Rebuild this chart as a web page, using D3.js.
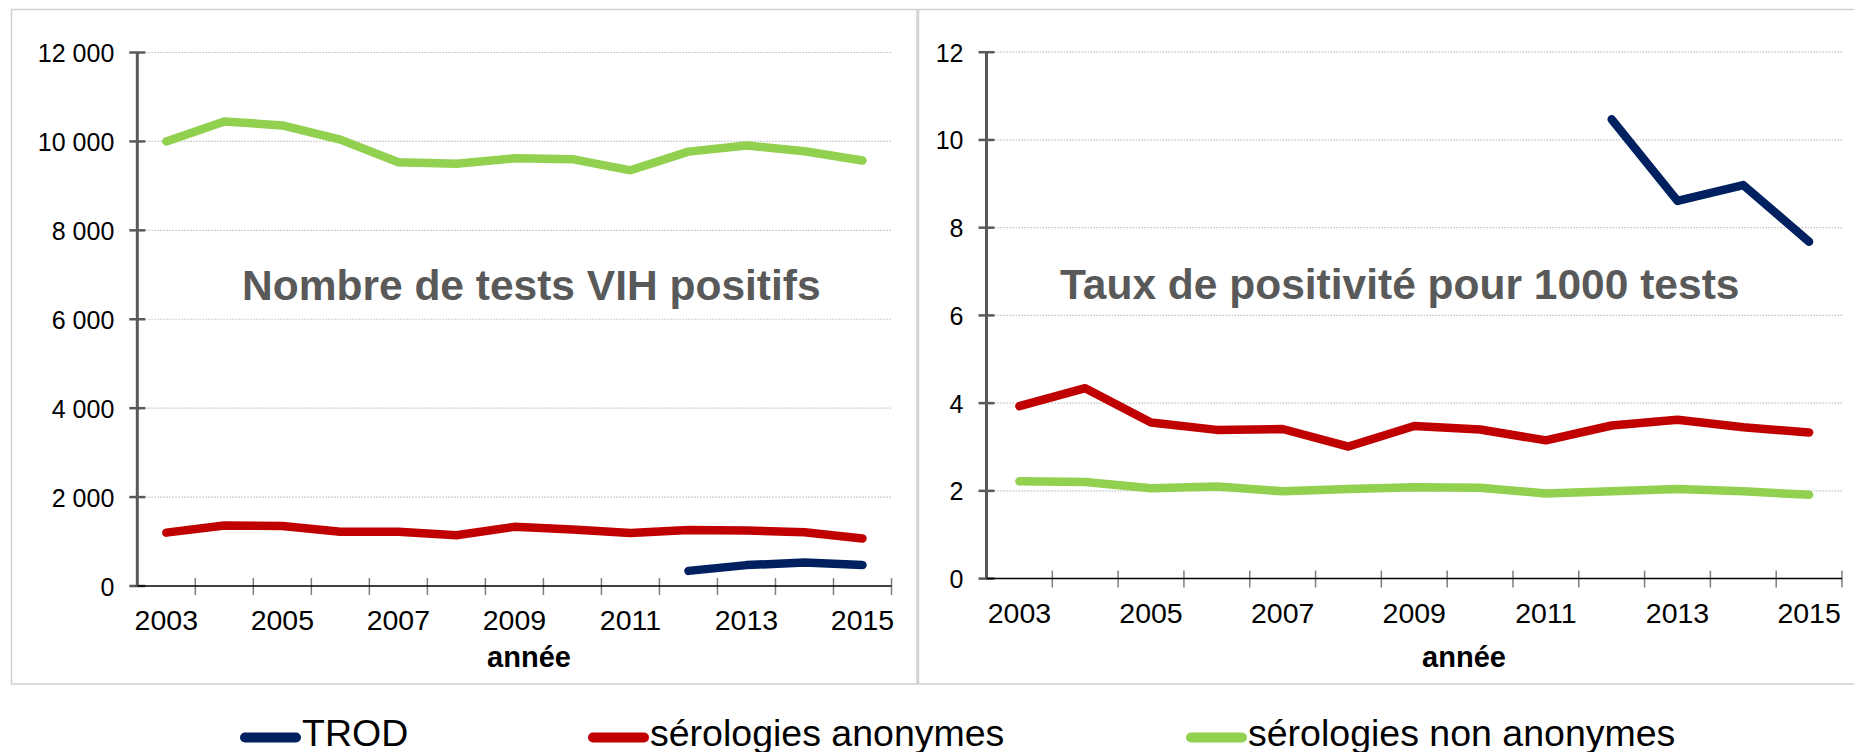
<!DOCTYPE html>
<html>
<head>
<meta charset="utf-8">
<script src="https://cdn.jsdelivr.net/npm/d3@7"></script>
<style>
  body { margin: 0; background: #fff; }
  svg { display: block; font-family: "Liberation Sans", Arial, sans-serif; }
</style>
</head>
<body>
<div id="dataviz"></div>
<script>
// data
var years = [2003, 2004, 2005, 2006, 2007, 2008, 2009, 2010, 2011, 2012, 2013, 2014, 2015];
var yearLabels = [2003, 2005, 2007, 2009, 2011, 2013, 2015];

// nombre de tests VIH positifs
var countTrod = [null, null, null, null, null, null, null, null, null, 340, 470, 530, 470];
var countAnon = [1200, 1360, 1350, 1220, 1220, 1140, 1330, 1270, 1190, 1260, 1250, 1210, 1070];
var countNonAnon = [10000, 10450, 10360, 10040, 9530, 9500, 9620, 9600, 9350, 9770, 9910, 9780, 9570];

// taux de positivite pour 1000 tests
var rateTrod = [null, null, null, null, null, null, null, null, null, 10.47, 8.61, 8.97, 7.68];
var rateAnon = [3.93, 4.34, 3.56, 3.39, 3.41, 3.01, 3.48, 3.40, 3.15, 3.49, 3.62, 3.45, 3.33];
var rateNonAnon = [2.22, 2.20, 2.06, 2.10, 1.99, 2.04, 2.08, 2.07, 1.94, 1.99, 2.04, 1.99, 1.91];

var countTicks = [0, 2000, 4000, 6000, 8000, 10000, 12000];
var rateTicks = [0, 2, 4, 6, 8, 10, 12];

var seriesNames = ["TROD", "sérologies anonymes", "sérologies non anonymes"];
var seriesColors = ["#002060", "#c00000", "#92d050"];

var widthFull = 1854;
var heightFull = 752;

var svg = d3.select("#dataviz").append("svg")
    .attr("width", widthFull)
    .attr("height", heightFull)
    .attr("viewBox", `0 0 ${widthFull} ${heightFull}`);

var fr = d3.formatLocale({ decimal: ",", thousands: " ", grouping: [3], currency: ["", " €"] });

// chart frames
svg.append("rect").attr("x", 11.5).attr("y", 9.5).attr("width", 905.5).attr("height", 674.5)
    .attr("fill", "none").attr("stroke", "#d0d0d0").attr("stroke-width", 1.5);
svg.append("rect").attr("x", 918.5).attr("y", 9.5).attr("width", 945).attr("height", 674.5)
    .attr("fill", "none").attr("stroke", "#d0d0d0").attr("stroke-width", 1.5);

var panels = [
    {
        left: 137.3, right: 891.5, top: 52.5, bottom: 586,
        ticks: countTicks, fmt: fr.format(",d"),
        series: [countTrod, countAnon, countNonAnon],
        title: "Nombre de tests VIH positifs", titleX: 242, titleY: 300,
        xTitleX: 529
    },
    {
        left: 986.5, right: 1842, top: 52.2, bottom: 578.6,
        ticks: rateTicks, fmt: d3.format("d"),
        series: [rateTrod, rateAnon, rateNonAnon],
        title: "Taux de positivité pour 1000 tests", titleX: 1060, titleY: 299,
        xTitleX: 1464
    }
];

panels.forEach(function(p) {
    var x = d3.scaleBand().domain(years).range([p.left, p.right]).padding(0);
    var y = d3.scaleLinear().domain([0, d3.max(p.ticks)]).range([p.bottom, p.top]);
    var g = svg.append("g");

    // dotted gridlines
    g.append("g").selectAll("line")
        .data(p.ticks.filter(function(d) { return d > 0; }))
        .enter().append("line")
        .attr("x1", p.left + 8).attr("x2", p.right)
        .attr("y1", function(d) { return y(d); }).attr("y2", function(d) { return y(d); })
        .attr("stroke", "#bfbfbf").attr("stroke-width", 1.2)
        .style("stroke-dasharray", "1.5, 1.5");

    // y-axis
    var ya = g.append("g")
        .attr("transform", "translate(" + p.left + ",0)")
        .call(d3.axisLeft(y).tickValues(p.ticks).tickSize(0).tickPadding(23).tickFormat(p.fmt));
    ya.select(".domain").remove();
    ya.selectAll("text").attr("fill", "#000").style("font-size", "25px").attr("dy", "0.36em");
    g.append("line").attr("x1", p.left).attr("x2", p.left).attr("y1", p.top).attr("y2", p.bottom)
        .attr("stroke", "#595959").attr("stroke-width", 3);
    g.append("g").selectAll("line").data(p.ticks).enter().append("line")
        .attr("x1", p.left - 8).attr("x2", p.left + 8)
        .attr("y1", function(d) { return y(d); }).attr("y2", function(d) { return y(d); })
        .attr("stroke", "#595959").attr("stroke-width", 2.5);

    // x-axis: ticks between categories, labels every other year
    var bounds = years.map(function(d) { return x(d); }).concat([p.right]);
    g.append("g").selectAll("line").data(bounds.slice(1)).enter().append("line")
        .attr("x1", function(d) { return d; }).attr("x2", function(d) { return d; })
        .attr("y1", p.bottom - 8).attr("y2", p.bottom + 9)
        .attr("stroke", "#7f7f7f").attr("stroke-width", 1.5);
    var xa = g.append("g")
        .attr("transform", "translate(0," + p.bottom + ")")
        .call(d3.axisBottom(x).tickValues(yearLabels).tickSize(0).tickPadding(24));
    xa.select(".domain").remove();
    xa.selectAll("text").attr("fill", "#000").style("font-size", "28.5px");
    g.append("line").attr("x1", p.left).attr("x2", p.right).attr("y1", p.bottom).attr("y2", p.bottom)
        .attr("stroke", "#000").attr("stroke-width", 1.5);

    g.append("text")
        .attr("x", p.xTitleX).attr("y", 667)
        .attr("text-anchor", "middle")
        .style("font-size", "29px").style("font-weight", "bold")
        .text("année");

    // series lines
    var line = d3.line()
        .defined(function(d) { return d[1] != null; })
        .x(function(d) { return x(d[0]) + x.bandwidth() / 2; })
        .y(function(d) { return y(d[1]); });

    [2, 1, 0].forEach(function(i) {
        g.append("path")
            .datum(years.map(function(yr, j) { return [yr, p.series[i][j]]; }))
            .attr("fill", "none")
            .attr("stroke", seriesColors[i])
            .attr("stroke-width", 8.5)
            .attr("stroke-linecap", "round")
            .attr("stroke-linejoin", "round")
            .attr("d", line);
    });

    g.append("text")
        .attr("x", p.titleX).attr("y", p.titleY)
        .attr("fill", "#595959")
        .style("font-size", "42.5px").style("font-weight", "bold")
        .text(p.title);
});

// legend
var legendX = [240, 588, 1186];
var lg = svg.append("g");
seriesNames.forEach(function(name, i) {
    lg.append("line")
        .attr("x1", legendX[i] + 5).attr("x2", legendX[i] + 56)
        .attr("y1", 737.5).attr("y2", 737.5)
        .attr("stroke", seriesColors[i]).attr("stroke-width", 10)
        .attr("stroke-linecap", "round");
    lg.append("text")
        .attr("x", legendX[i] + 62).attr("y", 746)
        .attr("fill", "#000")
        .style("font-size", "37.5px")
        .text(name);
});
</script>
</body>
</html>
